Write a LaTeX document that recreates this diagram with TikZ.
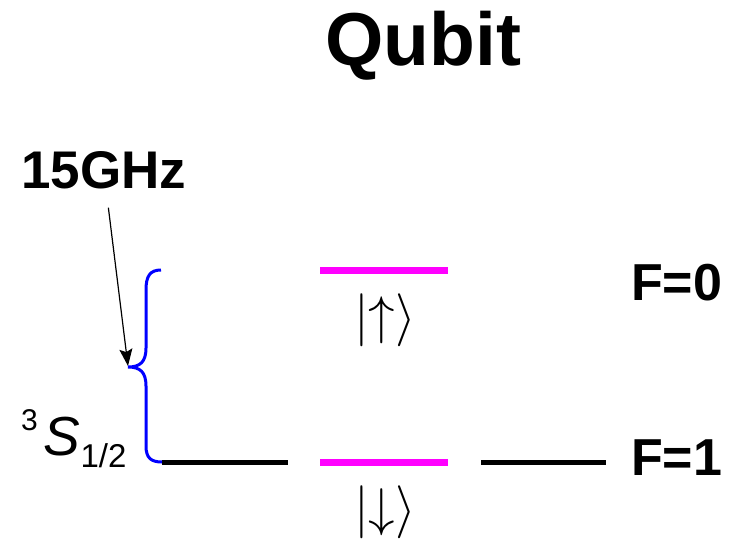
\documentclass[tikz,border=0pt]{standalone}
\usepackage{fontspec}
\setmainfont{Liberation Sans}
\usepackage{amsmath}
\usepackage{graphicx}
\usepackage{xcolor}
\usetikzlibrary{arrows.meta,positioning}

\definecolor{levelpink}{RGB}{255,0,255}
\definecolor{braceblue}{RGB}{0,0,255}

\begin{document}
\begin{tikzpicture}[
    x=1pt, y=-1pt,
    >=Stealth,
    level/.style={line width=5pt},
    qlevel/.style={line width=7pt, levelpink},
    label/.style={
        font=\fontsize{53}{60}\selectfont\bfseries,
        inner sep=0pt,
        anchor=base west
    },
    ket/.style={inner sep=0pt},
    pointer/.style={
        -{Stealth[length=17pt,width=13pt,inset=3pt]},
        line width=1.2pt,
        shorten <=19pt
    }
]
\useasboundingbox (0,0) rectangle (730,543);

\node[label, font=\fontsize{75}{80}\selectfont\bfseries] (title) at (325,65) {Qubit};

\node[label] (freq) at (21,188) {15GHz};

\node[label, font=\fontsize{52}{60}\selectfont\bfseries] (Fzero) at (631,300) {F=0};
\node[label, font=\fontsize{52}{60}\selectfont\bfseries] (Fone) at (631,475) {F=1};

\node[inner sep=0pt, anchor=base west] (term) at (21,455)
  {\raisebox{25pt}{\fontsize{30}{30}\selectfont 3}\hspace{6pt}%
   {\fontsize{55}{55}\selectfont\itshape S}%
   \raisebox{-12pt}{\fontsize{33}{33}\selectfont 1/2}};

% hyperfine levels
\draw[level] (162,462) -- (288,462);
\draw[level] (481,462) -- (606,462);
\draw[qlevel] (320,270) -- (448,270);
\draw[qlevel] (320,462) -- (448,462);

\node[ket] (up) at (385,320) {\scalebox{5.3}{$|{\uparrow}\rangle$}};
\node[ket] (down) at (385,512) {\scalebox{5.3}{$|{\downarrow}\rangle$}};

% splitting brace
\draw[braceblue, line width=3pt]
  (161,270) .. controls (150,270) and (146,276) .. (146,290)
  -- (146,348) .. controls (146,362) and (140,367) .. (128,367)
  .. controls (140,367) and (146,372) .. (146,386)
  -- (146,446) .. controls (146,458) and (151,462) .. (162,462);
\coordinate (tip) at (128,366);

\draw[pointer] (freq) -- (tip);

\end{tikzpicture}
\end{document}
